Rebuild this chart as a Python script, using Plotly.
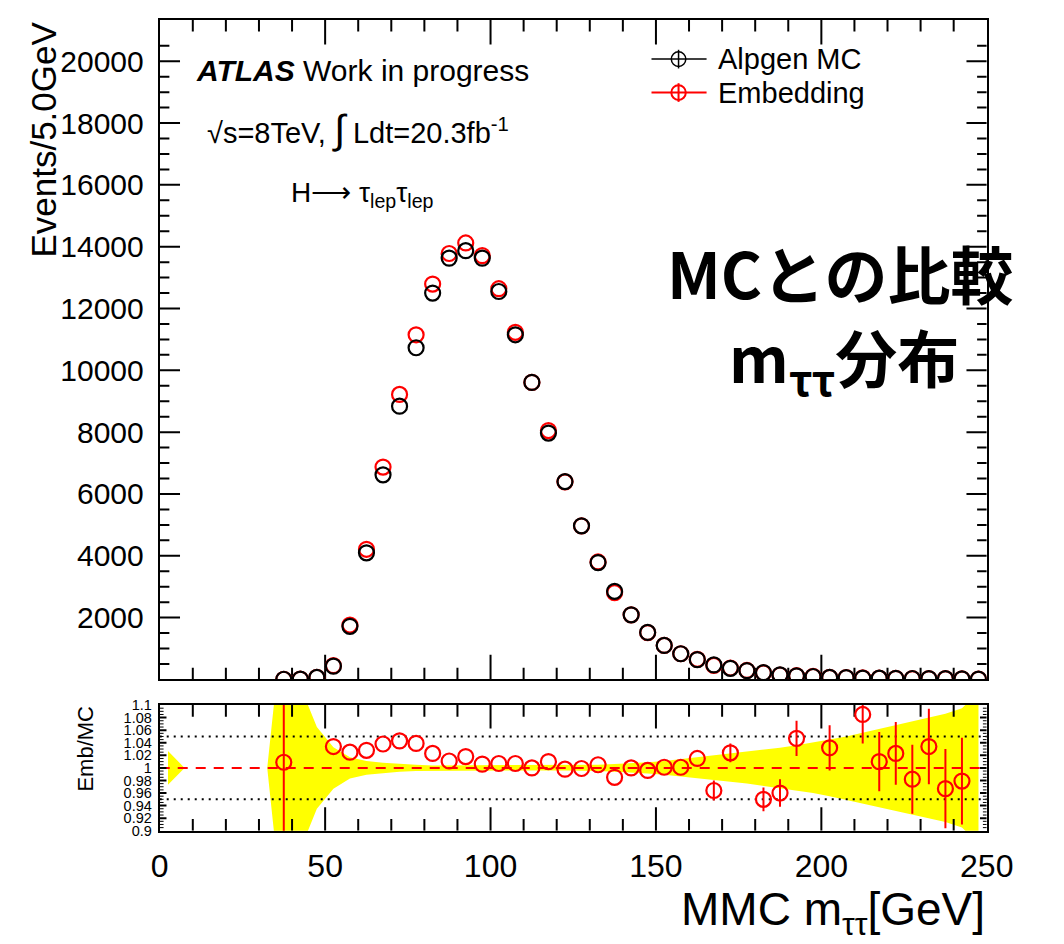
import plotly.graph_objects as go

W, H = 1064, 944


def px(x):
    return x / W


def py(y):
    return 1 - y / H


# 5 GeV bins of the MMC mass
bin_centers = [2.5 + 5 * i for i in range(50)]
mass = bin_centers[7:]  # 37.5 ... 247.5 GeV, bins with entries

alpgen_mc = [5, 10, 64, 430, 1717, 4095, 6620, 8840, 10730, 12500,
             13630, 13870, 13630, 12550, 11150, 9610, 7970, 6400, 4970, 3780,
             2850, 2090, 1520, 1100, 830, 640, 470, 360, 285, 220,
             150, 115, 95, 65, 60, 45, 40, 35, 30, 28,
             25, 20, 12]

embedding = [5, 12, 70, 445, 1760, 4210, 6870, 9220, 11150, 12790,
             13780, 14120, 13710, 12640, 11230, 9610, 8050, 6390, 4965, 3800,
             2805, 2090, 1515, 1100, 830, 650, 453, 369, 290, 209,
             144, 120, 97, 67, 62, 49, 40, 36, 29, 29,
             24, 20, 12]

# Emb/MC ratio (None where outside the displayed range)
ratio = [1.009, None, None, 1.034, 1.025, 1.028, 1.038, 1.043, 1.039, 1.023,
         1.011, 1.018, 1.006, 1.007, 1.007, 1.000, 1.010, 0.998, 0.999, 1.005,
         0.985, 1.000, 0.996, 1.001, 1.001, 1.015, 0.964, 1.024, None, 0.950,
         0.960, 1.047, None, 1.032, None, 1.085, 1.010, 1.023, 0.982, 1.034,
         0.967, 0.979, None]

# error on the ratio (bars shorter than the marker radius are left out)
ratio_err = [0.5, 0, 0, 0, 0, 0, 0, 0, 0, 0,
             0, 0, 0, 0, 0, 0, 0, 0, 0, 0,
             0, 0, 0, 0, 0, 0, 0.016, 0.015, 0, 0.019,
             0.022, 0.028, 0, 0.036, 0, 0.046, 0.047, 0.050, 0.055, 0.060,
             0.063, 0.069, 0]

# relative MC statistical uncertainty per bin (band around 1)
mc_rel_unc = [0.027, 0, 0, 0, 0, 0, 0, 0.25, 0.13, 0.065,
              0.033, 0.017, 0.011, 0.008, 0.006, 0.005, 0.004, 0.004, 0.004, 0.004,
              0.004, 0.004, 0.004, 0.004, 0.004, 0.004, 0.005, 0.006, 0.007, 0.009,
              0.011, 0.014, 0.016, 0.019, 0.022, 0.025, 0.028, 0.032, 0.036, 0.040,
              0.045, 0.050, 0.056, 0.062, 0.068, 0.074, 0.080, 0.086, 0.095, 0.120]

main_yticks = [2000, 4000, 6000, 8000, 10000, 12000, 14000, 16000, 18000, 20000]
main_yticktext = [str(v) for v in main_yticks]
ratio_yticks = [0.9, 0.92, 0.94, 0.96, 0.98, 1.0, 1.02, 1.04, 1.06, 1.08, 1.1]
ratio_yticktext = ["0.9", "0.92", "0.94", "0.96", "0.98", "1",
                   "1.02", "1.04", "1.06", "1.08", "1.1"]
x_ticks = [0, 50, 100, 150, 200, 250]

# tick-mark grids (major / minor) for the framed ROOT-style axes
x_major = [50, 100, 150, 200]
x_minor = [v for v in range(10, 250, 10) if v % 50]
y_major = main_yticks
y_minor = [v for v in range(500, 21000, 500) if v % 2000]
r_major = [0.92, 0.94, 0.96, 0.98, 1.0, 1.02, 1.04, 1.06, 1.08]
r_minor = [round(0.9 + 0.005 * i, 3) for i in range(1, 40) if i % 4]

FONT = "Liberation Sans, Arial, Helvetica, sans-serif"
CJK = "Noto Sans CJK JP, sans-serif"
RED = "#ff0000"
TICK = "black"

# panel geometry (pixels) and axis ranges
X_RANGE = (0, 250)
MAIN_RANGE = (0, 21340)
RATIO_RANGE = (0.8999, 1.1001)
LEFT, RIGHT = 156, 1012
MAIN_TOP, MAIN_BOTTOM = 12, 683
RATIO_TOP, RATIO_BOTTOM = 709, 837

x_per_px = (X_RANGE[1] - X_RANGE[0]) / (RIGHT - LEFT)
main_per_px = (MAIN_RANGE[1] - MAIN_RANGE[0]) / (MAIN_BOTTOM - MAIN_TOP)
ratio_per_px = (RATIO_RANGE[1] - RATIO_RANGE[0]) / (RATIO_BOTTOM - RATIO_TOP)


def tick_segments(yrange, y_per_px, x_sets, y_sets):
    """Inward tick marks on all four edges of a panel, as one segmented path."""
    xs, ys = [], []
    for vals, length in x_sets:
        d = length * y_per_px
        for v in vals:
            xs += [v, v, None, v, v, None]
            ys += [yrange[0], yrange[0] + d, None, yrange[1], yrange[1] - d, None]
    for vals, length in y_sets:
        d = length * x_per_px
        for v in vals:
            xs += [X_RANGE[0], X_RANGE[0] + d, None, X_RANGE[1], X_RANGE[1] - d, None]
            ys += [v, v, None, v, v, None]
    return xs, ys


fig = go.Figure()

# ---- ratio panel ----
band_upper = [1 + u for u in mc_rel_unc]
band_lower = [1 - u for u in mc_rel_unc]
fig.add_trace(go.Scatter(
    x=bin_centers + bin_centers[::-1],
    y=band_upper + band_lower[::-1],
    fill="toself", fillcolor="#ffff00", mode="lines",
    line=dict(width=0, color="#ffff00"),
    xaxis="x2", yaxis="y2", hoverinfo="skip"))

for level in (1.05, 0.95):
    fig.add_trace(go.Scatter(
        x=[0, 250], y=[level, level], mode="lines",
        line=dict(color="black", width=2, dash="2px,5px"),
        xaxis="x2", yaxis="y2", hoverinfo="skip"))

fig.add_trace(go.Scatter(
    x=[0, 250], y=[1, 1], mode="lines",
    line=dict(color=RED, width=2, dash="10px,8px"),
    xaxis="x2", yaxis="y2", hoverinfo="skip"))

tx, ty = tick_segments(RATIO_RANGE, ratio_per_px,
                       [(x_major, 24), (x_minor, 12)], [(r_major, 7)])
fig.add_trace(go.Scatter(x=tx, y=ty, mode="lines", line=dict(color=TICK, width=2),
                         xaxis="x2", yaxis="y2", hoverinfo="skip"))
tx, ty = tick_segments(RATIO_RANGE, ratio_per_px, [], [(r_minor, 4)])
fig.add_trace(go.Scatter(x=tx, y=ty, mode="lines", line=dict(color=TICK, width=1),
                         xaxis="x2", yaxis="y2", hoverinfo="skip"))

fig.add_trace(go.Scatter(
    x=mass, y=ratio, mode="markers",
    marker=dict(symbol="circle-open", size=15, color=RED, line=dict(width=2.2, color=RED)),
    error_y=dict(type="data", array=ratio_err, color=RED, thickness=2, width=0),
    xaxis="x2", yaxis="y2", name="Emb/MC"))

# ---- main panel ----
tx, ty = tick_segments(MAIN_RANGE, main_per_px,
                       [(x_major, 25), (x_minor, 12)], [(y_major, 21), (y_minor, 10)])
fig.add_trace(go.Scatter(x=tx, y=ty, mode="lines", line=dict(color=TICK, width=2),
                         xaxis="x", yaxis="y", hoverinfo="skip"))

fig.add_trace(go.Scatter(
    x=mass, y=embedding, mode="markers", name="Embedding",
    marker=dict(symbol="circle-open", size=15, color=RED, line=dict(width=2.2, color=RED)),
    xaxis="x", yaxis="y"))
fig.add_trace(go.Scatter(
    x=mass, y=alpgen_mc, mode="markers", name="Alpgen MC",
    marker=dict(symbol="circle-open", size=15, color="black", line=dict(width=2.2, color="black")),
    xaxis="x", yaxis="y"))

# ---- legend symbols: line + circle with cross ----
shapes = []
for row_y, col, lw in ((52, "black", 1.5), (86, RED, 2)):
    shapes.append(dict(type="line", xref="paper", yref="paper",
                       x0=px(665), x1=px(722), y0=py(row_y), y1=py(row_y),
                       line=dict(color=col, width=lw)))
    shapes.append(dict(type="circle", xref="paper", yref="paper",
                       x0=px(693 - 7.5), x1=px(693 + 7.5),
                       y0=py(row_y + 7.5), y1=py(row_y - 7.5),
                       line=dict(color=col, width=lw)))
    shapes.append(dict(type="line", xref="paper", yref="paper",
                       x0=px(693), x1=px(693), y0=py(row_y + 9.5), y1=py(row_y - 9.5),
                       line=dict(color=col, width=lw)))

axis_common = dict(showline=True, linecolor="black", linewidth=2, mirror=True,
                   showgrid=False, zeroline=False, ticks="")

fig.update_layout(
    width=W, height=H,
    margin=dict(l=0, r=0, t=0, b=0),
    paper_bgcolor="white", plot_bgcolor="white",
    showlegend=False,
    font=dict(family=FONT, color="black"),
    shapes=shapes,
    xaxis=dict(domain=[px(LEFT), px(RIGHT)], range=list(X_RANGE), anchor="y",
               showticklabels=False, **axis_common),
    yaxis=dict(domain=[py(MAIN_BOTTOM), py(MAIN_TOP)], range=list(MAIN_RANGE), anchor="x",
               tickmode="array", tickvals=main_yticks, ticktext=main_yticktext,
               tickfont=dict(size=30, family=FONT), ticklabelstandoff=8,
               **axis_common),
    xaxis2=dict(domain=[px(LEFT), px(RIGHT)], range=list(X_RANGE), anchor="y2",
                tickmode="array", tickvals=x_ticks,
                tickfont=dict(size=32, family=FONT), ticklabelstandoff=6,
                **axis_common),
    yaxis2=dict(domain=[py(RATIO_BOTTOM), py(RATIO_TOP)], range=list(RATIO_RANGE), anchor="x2",
                tickmode="array", tickvals=ratio_yticks, ticktext=ratio_yticktext,
                tickfont=dict(size=14.5, family=FONT), ticklabelstandoff=3,
                **axis_common),
)

annotations = [
    dict(text="Events/5.0GeV", x=px(36), y=py(12), textangle=-90,
         xanchor="center", yanchor="top", font=dict(size=35)),
    dict(text="Emb/MC", x=px(79), y=py(753), textangle=-90,
         xanchor="center", yanchor="middle", font=dict(size=22)),
    dict(text="MMC m<sub>ττ</sub>[GeV]", x=px(1012), y=py(920),
         xanchor="right", yanchor="middle", font=dict(size=46)),
    dict(text="<b><i>ATLAS</i></b> Work in progress", x=px(191), y=py(64),
         xanchor="left", yanchor="middle", font=dict(size=30)),
    dict(text="√s=8TeV, <span style=\"font-size:40px\">∫</span> Ldt=20.3fb<sup>-1</sup>",
         x=px(203), y=py(124), xanchor="left", yanchor="middle", font=dict(size=29)),
    dict(text="H⟶ τ<sub>lep</sub>τ<sub>lep</sub>", x=px(290), y=py(190),
         xanchor="left", yanchor="middle", font=dict(size=28)),
    dict(text="Alpgen MC", x=px(732), y=py(52), xanchor="left", yanchor="middle",
         font=dict(size=29)),
    dict(text="Embedding", x=px(732), y=py(86), xanchor="left", yanchor="middle",
         font=dict(size=29)),
    dict(text="<b>MCとの比較</b>", x=px(860), y=py(268), xanchor="center", yanchor="middle",
         font=dict(size=63, family=CJK)),
    dict(text="<b>m<sub>ττ</sub>分布</b>", x=px(864), y=py(358), xanchor="center", yanchor="middle",
         font=dict(size=62, family=CJK)),
]
for a in annotations:
    a.setdefault("xref", "paper")
    a.setdefault("yref", "paper")
    a.setdefault("showarrow", False)
fig.update_layout(annotations=annotations)

fig.write_html("out.html")
